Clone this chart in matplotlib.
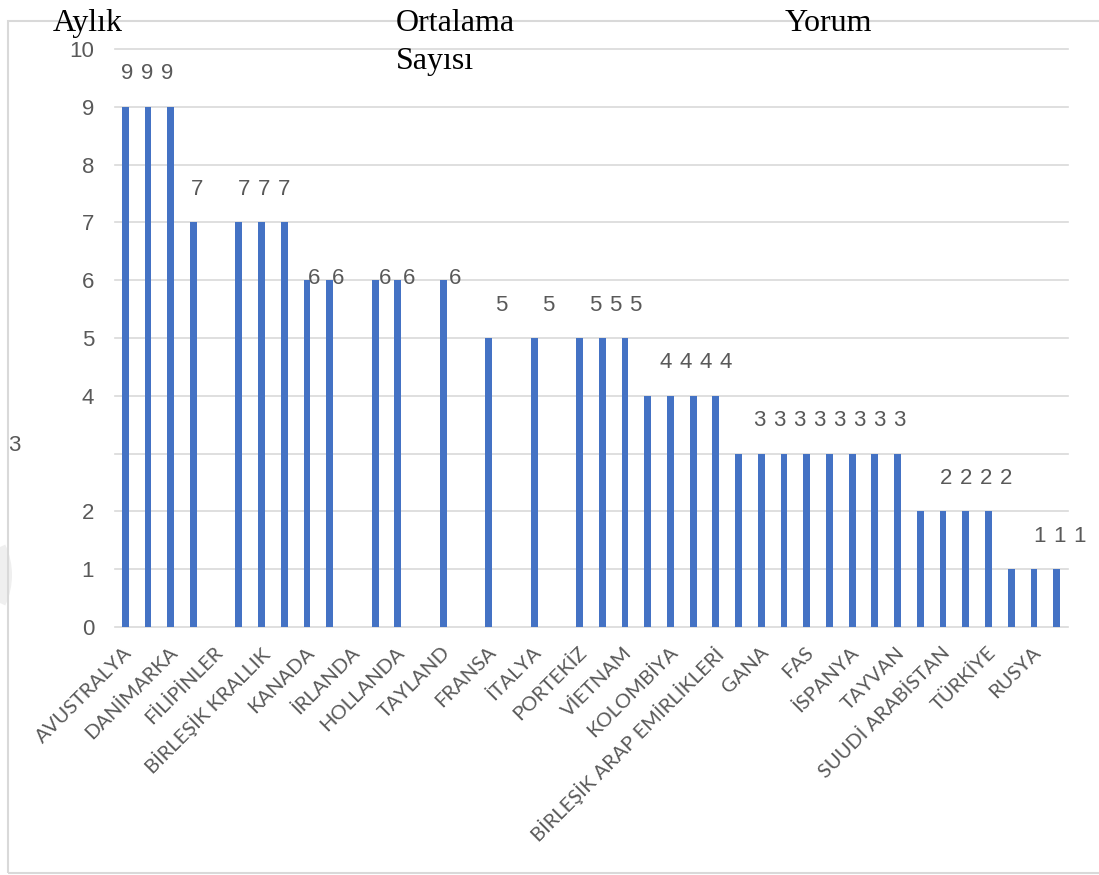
import numpy as np
import matplotlib
matplotlib.use("Agg")
import matplotlib.pyplot as plt
from matplotlib.patches import Rectangle, Wedge
from matplotlib.transforms import ScaledTranslation

# ---- data -------------------------------------------------------------
country_labels = [
    "AVUSTRALYA", "DANİMARKA", "FİLİPİNLER", "BİRLEŞİK KRALLIK", "KANADA",
    "İRLANDA", "HOLLANDA", "TAYLAND", "FRANSA", "İTALYA", "PORTEKİZ",
    "VİETNAM", "KOLOMBİYA", "BİRLEŞİK ARAP EMİRLİKLERİ", "GANA", "FAS",
    "İSPANYA", "TAYVAN", "SUUDİ ARABİSTAN", "TÜRKİYE", "RUSYA",
]
nan = np.nan
monthly_avg = [9, 9, 9, 7, nan, 7, 7, 7, 6, 6, nan, 6, 6, nan, 6, nan,
               5, nan, 5, nan, 5, 5, 5, 4, 4, 4, 4,
               3, 3, 3, 3, 3, 3, 3, 3, 2, 2, 2, 2, 1, 1, 1]
y_ticks = [0, 1, 2, 3, 4, 5, 6, 7, 8, 9, 10]
title_parts = ["Aylık", "Ortalama", "Sayısı", "Yorum"]

# ---- figure -----------------------------------------------------------
W, H = 1099, 875
fig = plt.figure(figsize=(W / 100, H / 100), dpi=100)
fig.patch.set_facecolor("white")

def fx(x):
    return x / W

def fy(y):
    return 1 - y / H

ax = fig.add_axes([fx(115), fy(627), 953 / W, 578 / H])
slots = np.arange(len(monthly_avg))
vals = np.array(monthly_avg, dtype=float)
ax.set_xlim(-0.45, 41.5)
ax.set_ylim(0, 10)

BAR = "#4472C4"
GRID = "#d9d9d9"
TXT = "#595959"
NUM_SIZE = 16

ok = ~np.isnan(vals)
ax.bar(slots[ok], vals[ok], width=0.3, color=BAR, zorder=3)

# gridlines / axis
ax.set_yticks(y_ticks)
ax.set_yticklabels([str(t) if t != 3 else "" for t in y_ticks])
ax.yaxis.grid(True, color=GRID, lw=1.2)
for gl in ax.get_ygridlines():
    gl.set_clip_on(False)
ax.set_axisbelow(True)
for s in ax.spines.values():
    s.set_visible(False)
ax.tick_params(axis="y", length=0, pad=15, labelsize=NUM_SIZE, labelcolor=TXT)
for lab in ax.get_yticklabels():
    lab.set_fontfamily("Liberation Sans")

# stray "3" axis label drawn at the left margin
fig.text(fx(14.7), fy(446), "3", fontsize=NUM_SIZE, color=TXT,
         family="Liberation Sans", ha="center", va="center")

# category labels (every second category)
ax.set_xticks(slots[::2])
ax.set_xticklabels(country_labels, rotation=45, ha="right", va="top",
                   rotation_mode="anchor", fontfamily="Lato", fontsize=14.5,
                   color=TXT)
ax.tick_params(axis="x", length=0, pad=12)
shift = ScaledTranslation(-2 / 100, 0, fig.dpi_scale_trans)
for lab in ax.get_xticklabels():
    lab.set_transform(lab.get_transform() + shift)

# value labels, one run of equal neighbouring bars at a time
# (lift above the bar top, spacing between digits) in axis units
default_place = (0.57, 0.88)
special_place = {6: (0.03, 1.06)}
i = 0
n = len(vals)
while i < n:
    if np.isnan(vals[i]):
        i += 1
        continue
    j = i
    while j + 1 < n and vals[j + 1] == vals[i]:
        j += 1
    x0 = 1.03 * i + 0.09
    lift, step = special_place.get(int(vals[i]), default_place)
    for k in range(j - i + 1):
        ax.text(x0 + step * k, vals[i] + lift, f"{int(vals[i])}",
                ha="center", va="center", fontsize=NUM_SIZE, color=TXT,
                family="Liberation Sans", clip_on=False, zorder=4)
    i = j + 1

# title words
serif = dict(family="Liberation Serif", fontsize=23, color="black",
             ha="left", va="baseline")
fig.text(fx(53), fy(31), title_parts[0], **serif)
fig.text(fx(395.5), fy(31), title_parts[1], **serif)
fig.text(fx(395.5), fy(68.5), title_parts[2], **serif)
fig.text(fx(785), fy(31), title_parts[3], **serif)

# outer frame
fig.patches.append(Rectangle((fx(7.5), fy(873)), (1110 - 7.5) / W,
                             (873 - 20.5) / H, transform=fig.transFigure,
                             fill=False, edgecolor=GRID, lw=1.5, zorder=0))

# faint background mark at the left edge
fig.patches.append(Wedge((-60, H - 575), 72, -25, 25, width=14,
                         transform=None, facecolor="#efefef",
                         edgecolor="none", zorder=-1))

fig.savefig("out.png", dpi=100)
